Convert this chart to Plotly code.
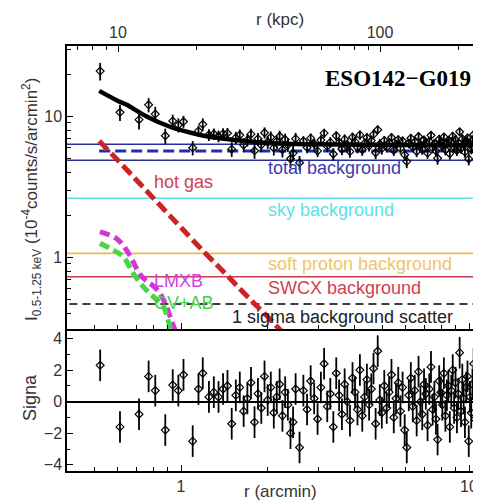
import plotly.graph_objects as go

# ---------------- data ----------------
# inner, well separated bins
r_inner = [0.524, 0.614, 0.715, 0.772, 0.814, 0.882, 0.936, 0.979, 1.02, 1.098, 1.15, 1.19]
I_inner = [21.0, 10.7, 9.5, 12.1, 10.4, 7.3, 9.3, 8.7, 9.2, 6.0, 7.9, 8.8]
Ierr_inner = [3.0, 1.4, 1.4, 1.4, 1.3, 0.9, 1.0, 1.0, 0.9, 0.7, 0.7, 0.9]
sig_inner = [2.3, -1.6, -0.8, 1.6, 0.7, -1.8, 1.05, 0.7, 1.7, -2.5, 0.8, 1.8]

# dense outer bins
r_outer = [1.25, 1.30, 1.35, 1.40, 1.45, 1.50, 1.55, 1.60, 1.65, 1.70, 1.75, 1.80, 1.85,
           1.90, 1.95, 2.00, 2.05, 2.10, 2.15, 2.20, 2.25, 2.30, 2.35, 2.40, 2.45, 2.50,
           2.58, 2.66, 2.74, 2.82, 2.90, 2.98, 3.06, 3.14, 3.22, 3.30, 3.38, 3.46, 3.54,
           3.62, 3.70, 3.78, 3.86, 3.94, 4.02, 4.10, 4.18, 4.26, 4.34, 4.42, 4.50, 4.58,
           4.66, 4.74, 4.82, 4.90, 4.98,
           5.08, 5.18, 5.28, 5.38, 5.48, 5.58, 5.68, 5.78, 5.88, 5.98, 6.08, 6.18, 6.28,
           6.38, 6.48, 6.58, 6.68, 6.78, 6.88, 6.98, 7.08, 7.18, 7.28, 7.38, 7.48, 7.58,
           7.68, 7.78, 7.88, 7.98, 8.08, 8.18, 8.28, 8.38, 8.48, 8.58, 8.68, 8.78, 8.88,
           8.98, 9.08, 9.18, 9.28, 9.38, 9.48, 9.58, 9.68, 9.78, 9.88, 9.98, 10.08, 10.18,
           10.28, 10.38, 10.48, 10.58, 10.68, 10.78, 10.88]
I_outer = [7.41, 7.52, 7.26, 7.56, 7.60, 5.87, 7.08, 7.38, 6.28, 6.82, 7.49, 5.71, 6.95,
           6.29, 7.67, 6.59, 7.13, 5.99, 6.68, 7.23, 5.82, 6.86, 6.29, 5.02, 5.50, 6.96,
           4.70, 6.69, 6.03, 7.02, 6.41, 5.70, 6.80, 7.62, 6.14, 6.58, 5.42, 7.29, 6.52,
           5.86, 6.91, 6.30, 5.64, 7.13, 6.63, 6.03, 7.40, 5.81, 6.47, 7.07, 6.19, 6.74,
           7.46, 5.53, 8.06, 6.36, 5.92,
           6.75, 6.05, 6.55, 7.10, 5.75, 6.35, 6.85, 5.95, 6.70, 5.35, 4.80, 6.45, 7.00,
           6.10, 6.60, 5.65, 7.20, 6.25, 5.85, 6.80, 6.50, 5.50, 6.65, 7.35, 6.00, 6.40,
           5.70, 5.05, 6.90, 6.55, 6.15, 7.15, 5.80, 6.45, 6.75, 5.45, 6.60, 7.25, 6.05,
           6.85, 5.75, 6.50, 7.80, 5.95, 6.95, 6.35, 5.60, 6.70, 7.05, 5.00, 6.40, 5.90,
           6.80, 7.45, 5.70, 6.55, 7.00, 6.10, 6.65]
Ierr_outer = [0.7] * 26 + [0.55] * 31 + [0.5] * 59
sig_outer = [0.3, 0.6, 0.3, 0.8, 1.0, -1.4, 0.4, 0.9, -0.6, 0.2, 1.2, -1.3, 0.5,
             -0.4, 1.6, 0.1, 0.9, -0.7, 0.3, 1.1, -0.9, 0.6, -0.2, -2.0, -1.3, 0.8,
             -2.9, 0.7, -0.5, 1.3, 0.2, -1.1, 0.9, 2.4, -0.3, 0.5, -1.6, 1.8, 0.4,
             -0.8, 1.1, 0.0, -1.2, 1.5, 0.6, -0.5, 2.0, -0.9, 0.3, 1.4, -0.2, 0.8,
             2.1, -1.4, 3.2, 0.1, -0.7,
             1.0, -0.4, 0.6, 1.7, -1.0, 0.2, 1.2, -0.6, 0.9, -1.8, -2.9, 0.4, 1.5,
             -0.3, 0.7, -1.2, 1.9, 0.0, -0.8, 1.1, 0.5, -1.5, 0.8, 2.2, -0.5, 0.3,
             -1.1, -2.4, 1.3, 0.6, -0.2, 1.8, -0.9, 0.4, 1.0, -1.6, 0.7, 2.0, -0.4,
             1.2, -1.0, 0.5, 3.1, -0.6, 1.4, 0.2, -1.3, 0.9, 1.6, -2.5, 0.3, -0.7,
             1.1, 2.4, -1.1, 0.6, 1.5, -0.3, 0.8]
sigerr_outer = [1.0] * 116
sigerr_inner = [1.0] * 12

# best-fit total model
model_r = [0.52, 0.60, 0.648, 0.76, 0.916, 1.0, 1.10, 1.20, 1.366, 1.60, 2.0, 3.0, 5.0, 8.0, 12.0]
model_I = [15.2, 13.0, 12.1, 10.0, 8.46, 8.0, 7.6, 7.3, 7.0, 6.75, 6.5, 6.35, 6.3, 6.25, 6.25]

# components
hot_r = [0.52, 0.60, 0.70, 0.80, 0.90, 1.0, 1.2, 1.4, 1.6, 1.8, 2.0, 2.2, 2.4]
hot_I = [6.7, 4.95, 3.55, 2.65, 2.05, 1.63, 1.10, 0.80, 0.60, 0.47, 0.38, 0.31, 0.26]
lmxb_r = [0.523, 0.598, 0.656, 0.72, 0.76, 0.80, 0.845, 0.89, 0.93, 0.97]
lmxb_I = [1.52, 1.36, 1.08, 0.76, 0.68, 0.63, 0.56, 0.45, 0.35, 0.28]
cv_r = [0.523, 0.582, 0.631, 0.683, 0.74, 0.80, 0.868, 0.916, 0.95]
cv_I = [1.26, 1.13, 1.01, 0.77, 0.62, 0.53, 0.45, 0.32, 0.26]

# background levels
total_bg = 5.69
total_bg_hi = 6.35
total_bg_lo = 4.90
sky_bg = 2.63
soft_proton_bg = 1.07
swcx_bg = 0.73
sigma_bg = 0.468

# ---------------- layout geometry ----------------
# the page body adds an 8px offset; plot area in window pixels: x 67..481, y 46..471
OFF = 8
W, H = 481 - OFF, 504 - OFF
PL, PT, PR, PB = 67, 46, 481, 471
ML, MT = PL - OFF, PT - OFF
MR = W + OFF - PR
MB = H + OFF - PB
PW = PR - PL
PH = PB - PT
SPLIT = 142 / PH  # bottom panel fraction


def px(xp):
    return (xp - PL) / PW


def py(yp):
    return (PB - yp) / PH


FONT = "Liberation Sans, Arial, sans-serif"
TXT = "#333333"

fig = go.Figure()

XL = [0.3, 12.0]


def hline(y, color, width, dash="solid", x0=XL[0]):
    fig.add_trace(go.Scatter(x=[x0, XL[1]], y=[y, y], mode="lines", xaxis="x2", yaxis="y2",
                             line=dict(color=color, width=width, dash=dash),
                             hoverinfo="skip", showlegend=False))


hline(total_bg_hi, "#2a2f9c", 1.4)
hline(total_bg_lo, "#2a2f9c", 1.4)
hline(sky_bg, "#5fe0e6", 1.6)
hline(soft_proton_bg, "#e9b955", 1.6)
hline(swcx_bg, "#c53a4c", 1.6)
hline(sigma_bg, "black", 1.5, dash="8px,5px")
hline(total_bg, "#1c2fa8", 3, dash="11px,5px", x0=0.52)

# components
fig.add_trace(go.Scatter(x=hot_r, y=hot_I, mode="lines", xaxis="x2", yaxis="y2",
                         line=dict(color="#cc2424", width=5, dash="12px,5px", shape="spline"),
                         showlegend=False))
fig.add_trace(go.Scatter(x=lmxb_r, y=lmxb_I, mode="lines", xaxis="x2", yaxis="y2",
                         line=dict(color="#d236d6", width=5, dash="10px,5px", shape="spline"),
                         showlegend=False))
fig.add_trace(go.Scatter(x=cv_r, y=cv_I, mode="lines", xaxis="x2", yaxis="y2",
                         line=dict(color="#46d646", width=5, dash="10px,5px", shape="spline"),
                         showlegend=False))

# model
fig.add_trace(go.Scatter(x=model_r, y=model_I, mode="lines", xaxis="x2", yaxis="y2",
                         line=dict(color="black", width=4.5, shape="spline"), showlegend=False))

# data (top)
r_all = r_inner + r_outer
fig.add_trace(go.Scatter(x=r_all, y=I_inner + I_outer, mode="markers", xaxis="x2", yaxis="y2",
                         marker=dict(symbol="diamond-open", size=6, color="black",
                                     line=dict(width=1.2, color="black")),
                         error_y=dict(type="data", array=Ierr_inner + Ierr_outer,
                                      color="black", thickness=1.8, width=0),
                         showlegend=False))

# residuals (bottom)
fig.add_trace(go.Scatter(x=r_all, y=sig_inner + sig_outer, mode="markers", xaxis="x", yaxis="y",
                         marker=dict(symbol="diamond-open", size=6, color="black",
                                     line=dict(width=1.2, color="black")),
                         error_y=dict(type="data", array=sigerr_inner + sigerr_outer,
                                      color="black", thickness=1.8, width=0),
                         showlegend=False))

# invisible trace to keep top kpc axis
fig.add_trace(go.Scatter(x=[20], y=[1], xaxis="x3", yaxis="y2", mode="markers",
                         marker=dict(opacity=0), hoverinfo="skip", showlegend=False))

axis_common = dict(showline=True, linecolor="black", linewidth=1.5, showgrid=False,
                   zeroline=False, ticks="inside", tickcolor="black", tickwidth=1.2,
                   tickfont=dict(family=FONT, size=16, color=TXT))

# x ranges: 1 arcmin at x=181, 288 px per decade; 10 kpc at x=118, 262 px per decade
xr = [(PL - 181) / 288, (PR - 181) / 288]
xr_kpc = [1 + (PL - 118) / 262, 1 + (PR - 118) / 262]
xminor = [0.4, 0.5, 0.6, 0.7, 0.8, 0.9, 2, 3, 4, 5, 6, 7, 8, 9]

fig.update_layout(
    width=W, height=H,
    margin=dict(l=ML, r=MR, t=MT, b=MB, pad=0),
    paper_bgcolor="white", plot_bgcolor="white",
    showlegend=False,
    xaxis=dict(axis_common, type="log", range=xr, domain=[0, 1], anchor="y",
               tickmode="array", tickvals=[1, 10], ticktext=["1", "10"], ticklen=6,
               minor=dict(ticks="inside", tickvals=xminor, ticklen=4, tickcolor="black")),
    xaxis2=dict(axis_common, type="log", range=xr, domain=[0, 1], anchor="y2",
                matches="x", tickmode="array", tickvals=[1, 10], ticklen=6,
                showticklabels=False,
                minor=dict(ticks="inside", tickvals=xminor, ticklen=4, tickcolor="black")),
    xaxis3=dict(axis_common, type="log", range=xr_kpc, overlaying="x2",
                anchor="y2", side="top", tickmode="array", tickvals=[10, 100],
                ticktext=["10", "100"], ticklen=6,
                minor=dict(ticks="inside", tickvals=[7, 8, 9, 20, 30, 40, 50, 60, 70, 80, 90, 200],
                           ticklen=4, tickcolor="black")),
    yaxis=dict(axis_common, range=[-4.39, 4.60], domain=[0, SPLIT], anchor="x",
               tickmode="array", tickvals=[-4, -2, 0, 2, 4],
               ticktext=["\u22124", "\u22122", "0", "2", "4"], ticklen=6,
               zeroline=True, zerolinecolor="black", zerolinewidth=1.5,
               minor=dict(ticks="inside", tickvals=[-3, -1, 1, 3], ticklen=3, tickcolor="black")),
    yaxis2=dict(axis_common, type="log", range=[-0.507, 1.5], domain=[SPLIT, 1], anchor="x2",
                tickmode="array", tickvals=[1, 10], ticktext=["1", "10"], ticklen=6,
                minor=dict(ticks="inside",
                           tickvals=[0.4, 0.5, 0.6, 0.7, 0.8, 0.9, 2, 3, 4, 5, 6, 7, 8, 9, 20, 30],
                           ticklen=4, tickcolor="black")),
)


def label(text, xp, yp, color, size=18, xanchor="center", family=FONT, angle=0):
    fig.add_annotation(text=text, x=px(xp), y=py(yp), xref="paper", yref="paper",
                       showarrow=False, xanchor=xanchor, yanchor="middle", textangle=angle,
                       font=dict(family=family, size=size, color=color))


label("hot gas", 183, 182, "#d2404e")
label("total background", 266, 168, "#3a3ab0", xanchor="left")
label("sky background", 266, 210, "#5fe0e6", xanchor="left")
label("soft proton background", 266, 264, "#f0c46a", xanchor="left")
label("SWCX background", 266, 288, "#d2404e", xanchor="left")
label("1 sigma background scatter", 230, 317, "#222222", xanchor="left")
label("LMXB", 152, 281, "#d040e0", xanchor="left")
label("CV+AB", 152, 303, "#4ad04a", xanchor="left")
label("<b>ESO142\u2212G019</b>", 398, 78, "black", size=23,
      family="Liberation Serif, Times New Roman, serif")
label("r (kpc)", 280, 20, TXT, size=17)
label("r (arcmin)", 280, 492, TXT, size=17)
label("Signa", 30, 398, TXT, size=18, angle=-90)
label("I<sub>0.5-1.25 keV</sub> (10<sup>-4</sup>counts/s/arcmin<sup>2</sup>)", 32, 200, TXT,
      size=17, angle=-90)

fig.write_html("out.html")
